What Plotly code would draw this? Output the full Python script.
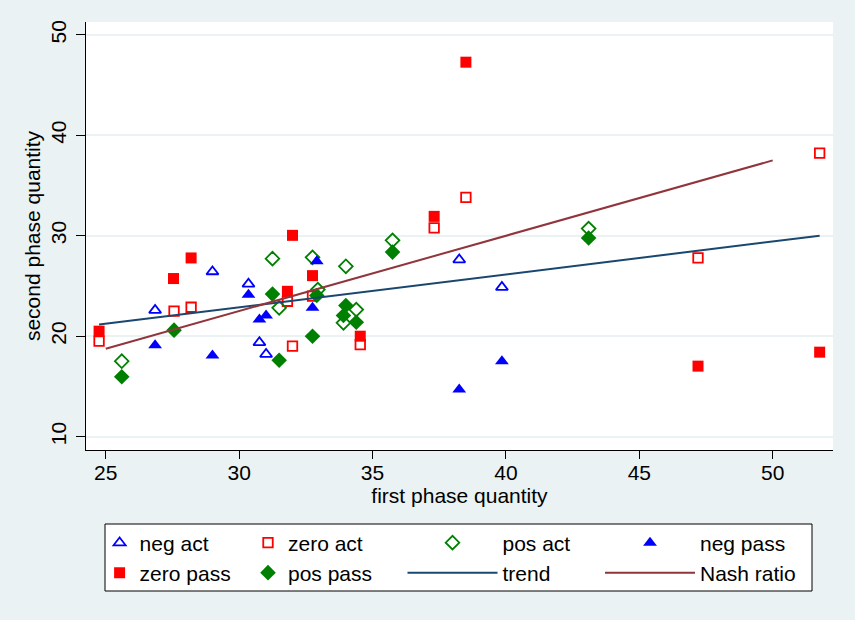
import plotly.graph_objects as go

# ---- data ----
neg_act_x = [26.85, 29.0, 30.35, 30.76, 31.01, 38.25, 39.85]
neg_act_y = [22.58, 26.43, 25.2, 19.37, 18.21, 27.62, 24.87]

zero_act_x = [24.75, 27.56, 28.2, 31.81, 32.0, 32.75, 34.54, 37.31, 38.5, 47.2, 51.76]
zero_act_y = [19.5, 22.49, 22.88, 23.48, 19.01, 23.98, 19.17, 30.78, 33.82, 27.79, 38.23]

pos_act_x = [25.6, 31.25, 31.5, 32.75, 32.95, 34.0, 33.91, 34.39, 35.75, 43.1]
pos_act_y = [17.51, 27.72, 22.82, 27.85, 24.64, 26.96, 21.33, 22.65, 29.54, 30.71]

neg_pass_x = [26.85, 29.0, 30.35, 30.76, 31.01, 32.91, 32.75, 38.25, 39.85]
neg_pass_y = [19.11, 18.08, 24.12, 21.66, 22.06, 27.46, 22.82, 14.70, 17.51]

zero_pass_x = [24.75, 27.54, 28.2, 31.81, 32.0, 32.75, 34.54, 37.31, 38.5, 47.2, 51.76]
zero_pass_y = [20.5, 25.74, 27.79, 24.47, 30.04, 26.03, 20.0, 31.93, 47.28, 17.02, 18.41]

pos_pass_x = [25.6, 27.56, 31.25, 31.5, 32.75, 32.91, 34.0, 33.91, 34.39, 35.75, 43.1]
pos_pass_y = [15.96, 20.6, 24.19, 17.61, 20.0, 24.05, 23.05, 22.06, 21.39, 28.37, 29.78]

trend_x = [24.75, 51.76]
trend_y = [21.16, 30.0]

nash_x = [25, 50]
nash_y = [18.75, 37.5]

x_ticks = [25, 30, 35, 40, 45, 50]
y_ticks = [10, 20, 30, 40, 50]

# ---- style ----
BG = "#EAF2F3"
BLUE = "rgb(0,0,255)"
RED = "rgb(255,0,0)"
GREEN = "rgb(0,128,0)"
NAVY = "rgb(26,71,111)"
MAROON = "rgb(144,53,59)"
FONT = "Liberation Sans"
FS = 21

fig = go.Figure()

def add_markers(x, y, name, symbol, color, size, legend, open_=False):
    if open_:
        marker = dict(symbol=symbol, size=size, color=color, line=dict(color=color, width=1.8))
    else:
        marker = dict(symbol=symbol, size=size, color=color, line=dict(width=0))
    fig.add_trace(go.Scatter(x=x, y=y, mode="markers", name=name, marker=marker,
                             legend=legend, showlegend=True))

add_markers(neg_act_x, neg_act_y, "neg act", "triangle-up-open", BLUE, 10.5, "legend", True)
add_markers(zero_act_x, zero_act_y, "zero act", "square-open", RED, 9.5, "legend2", True)
add_markers(pos_act_x, pos_act_y, "pos act", "diamond-open", GREEN, 10.5, "legend3", True)
add_markers(neg_pass_x, neg_pass_y, "neg pass", "triangle-up", BLUE, 12, "legend4")
add_markers(zero_pass_x, zero_pass_y, "zero pass", "square", RED, 11, "legend5")
add_markers(pos_pass_x, pos_pass_y, "pos pass", "diamond", GREEN, 12, "legend6")

fig.add_trace(go.Scatter(x=trend_x, y=trend_y, mode="lines", name="trend",
                         line=dict(color=NAVY, width=2), legend="legend7"))
fig.add_trace(go.Scatter(x=nash_x, y=nash_y, mode="lines", name="Nash ratio",
                         line=dict(color=MAROON, width=2), legend="legend8"))

# plot area in pixels: left 86, right 833, top 22, bottom 450
L, R, T, B = 86, 833, 22, 450
W, H = 855, 620

def px_to_paper_x(px):
    return (px - L) / (R - L)

def px_to_paper_y(py):
    return (B - py) / (B - T)

row1 = px_to_paper_y(543)
row2 = px_to_paper_y(573)
col_text = [139.6, 288, 502.5, 700]
col_iw = [30, 30, 90, 90]

legend_layouts = {}
names = ["legend", "legend2", "legend3", "legend4", "legend5", "legend6", "legend7", "legend8"]
for i, nm in enumerate(names):
    c = i % 4
    r = row1 if i < 4 else row2
    iw = col_iw[c]
    left_px = col_text[c] - (iw + 10)
    legend_layouts[nm] = dict(
        x=px_to_paper_x(left_px), y=r, xanchor="left", yanchor="middle",
        bgcolor="rgba(0,0,0,0)", borderwidth=0, itemwidth=iw,
        font=dict(family=FONT, size=FS, color="black"),
        itemclick=False, itemdoubleclick=False,
    )

fig.update_layout(
    width=W, height=H,
    margin=dict(l=L, r=W - R, t=T, b=H - B, pad=0),
    paper_bgcolor=BG, plot_bgcolor="white",
    font=dict(family=FONT, size=FS, color="black"),
    **legend_layouts,
    shapes=[dict(type="rect", xref="paper", yref="paper",
                 x0=px_to_paper_x(105), x1=px_to_paper_x(812),
                 y0=px_to_paper_y(591), y1=px_to_paper_y(524),
                 line=dict(color="black", width=1), fillcolor="white", layer="below")],
)

fig.update_xaxes(
    range=[24.26, 52.26], tickmode="array", tickvals=x_ticks,
    ticks="outside", ticklen=8, tickwidth=1, tickcolor="black",
    showline=True, linecolor="black", linewidth=1, mirror=False,
    showgrid=False, zeroline=False, ticklabelstandoff=-4,
    tickfont=dict(family=FONT, size=FS),
    title=dict(text="first phase quantity", font=dict(family=FONT, size=FS), standoff=2),
)
fig.update_yaxes(
    range=[8.67, 51.28], tickmode="array", tickvals=y_ticks, tickangle=-90,
    ticks="outside", ticklen=9, tickwidth=1, tickcolor="black",
    showline=True, linecolor="black", linewidth=1, mirror=False,
    showgrid=True, gridcolor=BG, gridwidth=2, zeroline=False, ticklabelstandoff=2,
    tickfont=dict(family=FONT, size=FS),
    title=dict(text="second phase quantity", font=dict(family=FONT, size=FS), standoff=0),
)

fig.write_html("out.html", config={"displayModeBar": False},
               post_script="document.body.style.margin='0';")
